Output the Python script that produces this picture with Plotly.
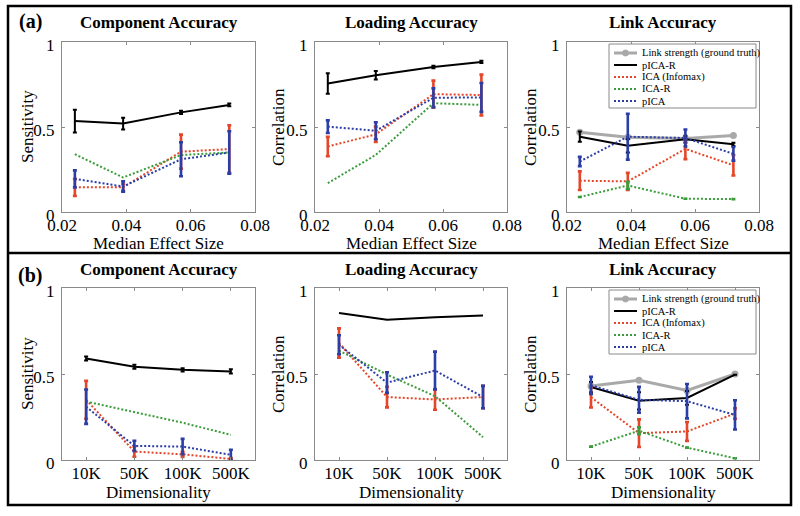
import plotly.graph_objects as go

# ---------------- data ----------------
effect_size = [0.024, 0.039, 0.057, 0.072]
dims = ["10K", "50K", "100K", "500K"]
effect_ticks = [0.02, 0.04, 0.06, 0.08]
effect_ticktext = ["0.02", "0.04", "0.06", "0.08"]
y_ticks = [0, 0.5, 1]
y_ticktext = ["0", "0.5", "1"]

series_names = ["Link strength (ground truth)", "pICA-R", "ICA (Infomax)", "ICA-R", "pICA"]

# (a) Component accuracy vs effect size
a_comp_picar = [0.535, 0.52, 0.586, 0.63]
a_comp_picar_err = [0.067, 0.034, 0.01, 0.008]
a_comp_ica = [0.145, 0.145, 0.355, 0.37]
a_comp_ica_err = [0.05, 0.02, 0.1, 0.14]
a_comp_icar = [0.34, 0.203, 0.335, 0.35]
a_comp_pica = [0.195, 0.15, 0.31, 0.35]
a_comp_pica_err = [0.05, 0.03, 0.1, 0.125]

# (a) Loading accuracy
a_load_picar = [0.756, 0.805, 0.853, 0.883]
a_load_picar_err = [0.06, 0.025, 0.008, 0.006]
a_load_ica = [0.385, 0.457, 0.693, 0.688]
a_load_ica_err = [0.057, 0.045, 0.08, 0.12]
a_load_icar = [0.17, 0.336, 0.64, 0.63]
a_load_pica = [0.502, 0.478, 0.672, 0.674]
a_load_pica_err = [0.037, 0.05, 0.055, 0.085]

# (a) Link accuracy
a_link_truth = [0.469, 0.44, 0.432, 0.45]
a_link_picar = [0.443, 0.39, 0.428, 0.398]
a_link_picar_err = [0.03, 0.04, 0.02, 0.01]
a_link_ica = [0.184, 0.18, 0.371, 0.275]
a_link_ica_err = [0.055, 0.05, 0.06, 0.06]
a_link_icar = [0.088, 0.156, 0.078, 0.076]
a_link_icar_err = [None, 0.02, None, None]
a_link_pica = [0.297, 0.443, 0.435, 0.342]
a_link_pica_err = [0.027, 0.135, 0.05, 0.04]

# (b) Component accuracy vs dimensionality
b_comp_picar = [0.59, 0.542, 0.524, 0.515]
b_comp_picar_err = [0.012, 0.012, 0.01, 0.012]
b_comp_ica = [0.35, 0.049, 0.033, 0.006]
b_comp_ica_err = [0.11, 0.03, 0.015, 0.006]
b_comp_icar = [0.34, 0.278, 0.217, 0.146]
b_comp_pica = [0.31, 0.082, 0.078, 0.03]
b_comp_pica_err = [0.1, 0.03, 0.045, 0.03]

# (b) Loading accuracy
b_load_picar = [0.855, 0.816, 0.83, 0.84]
b_load_ica = [0.68, 0.366, 0.352, 0.366]
b_load_ica_err = [0.085, 0.06, 0.06, 0.065]
b_load_icar = [0.636, 0.497, 0.371, 0.133]
b_load_pica = [0.67, 0.45, 0.52, 0.366]
b_load_pica_err = [0.055, 0.06, 0.11, 0.065]

# (b) Link accuracy
b_link_truth = [0.43, 0.463, 0.404, 0.5]
b_link_picar = [0.424, 0.344, 0.361, 0.496]
b_link_picar_err = [0.03, 0.05, 0.04, None]
b_link_ica = [0.365, 0.156, 0.166, 0.27]
b_link_ica_err = [0.06, 0.08, 0.055, 0.03]
b_link_icar = [0.078, 0.17, 0.072, 0.01]
b_link_icar_err = [None, 0.02, None, None]
b_link_pica = [0.434, 0.35, 0.342, 0.262]
b_link_pica_err = [0.05, 0.075, 0.1, 0.085]

# ---------------- styling ----------------
W, H = 800, 516
C_GRAY = "#a9a9a9"
C_BLACK = "#000000"
C_RED = "#e4462a"
C_GREEN = "#3a9c3a"
C_BLUE = "#2b3ea6"
DOT = "2px,2px"
SERIF = "Liberation Serif, Times New Roman, serif"


def px(x):
    return x / W


def py(y):
    return 1 - y / H


col_x = [(62, 255), (315, 507), (567, 759)]
row_y = [(42, 212), (288, 460)]

fig = go.Figure()


def err(arr, color, thick=2.6, width=2):
    if arr is None:
        return None
    return dict(type="data", array=arr, visible=True, color=color,
                thickness=thick, width=width)


def add_series(i, xs, truth, picar, picar_err, ica, ica_err, icar, icar_err, pica, pica_err):
    xa, ya = f"x{i}", f"y{i}"
    if truth is not None:
        fig.add_trace(go.Scatter(x=xs, y=truth, xaxis=xa, yaxis=ya, mode="lines+markers",
                                 line=dict(color=C_GRAY, width=3),
                                 marker=dict(color=C_GRAY, size=7, symbol="circle"),
                                 name=series_names[0], showlegend=False))
    fig.add_trace(go.Scatter(x=xs, y=picar, xaxis=xa, yaxis=ya, mode="lines",
                             line=dict(color=C_BLACK, width=2),
                             error_y=err(picar_err, C_BLACK, 2, 2),
                             name=series_names[1], showlegend=False))
    fig.add_trace(go.Scatter(x=xs, y=ica, xaxis=xa, yaxis=ya, mode="lines",
                             line=dict(color=C_RED, width=2, dash=DOT),
                             error_y=err(ica_err, C_RED),
                             name=series_names[2], showlegend=False))
    fig.add_trace(go.Scatter(x=xs, y=icar, xaxis=xa, yaxis=ya, mode="lines",
                             line=dict(color=C_GREEN, width=2, dash=DOT),
                             error_y=err(icar_err, C_GREEN),
                             name=series_names[3], showlegend=False))
    fig.add_trace(go.Scatter(x=xs, y=pica, xaxis=xa, yaxis=ya, mode="lines",
                             line=dict(color=C_BLUE, width=2, dash=DOT),
                             error_y=err(pica_err, C_BLUE),
                             name=series_names[4], showlegend=False))


add_series(1, effect_size, None, a_comp_picar, a_comp_picar_err, a_comp_ica, a_comp_ica_err,
           a_comp_icar, None, a_comp_pica, a_comp_pica_err)
add_series(2, effect_size, None, a_load_picar, a_load_picar_err, a_load_ica, a_load_ica_err,
           a_load_icar, None, a_load_pica, a_load_pica_err)
add_series(3, effect_size, a_link_truth, a_link_picar, a_link_picar_err, a_link_ica, a_link_ica_err,
           a_link_icar, a_link_icar_err, a_link_pica, a_link_pica_err)
add_series(4, dims, None, b_comp_picar, b_comp_picar_err, b_comp_ica, b_comp_ica_err,
           b_comp_icar, None, b_comp_pica, b_comp_pica_err)
add_series(5, dims, None, b_load_picar, None, b_load_ica, b_load_ica_err,
           b_load_icar, None, b_load_pica, b_load_pica_err)
add_series(6, dims, b_link_truth, b_link_picar, b_link_picar_err, b_link_ica, b_link_ica_err,
           b_link_icar, b_link_icar_err, b_link_pica, b_link_pica_err)

layout = dict(width=W, height=H, autosize=False,
              margin=dict(l=0, r=0, t=0, b=0, pad=0, autoexpand=False),
              paper_bgcolor="white", plot_bgcolor="white", showlegend=False,
              font=dict(family=SERIF, size=17, color="black"))

axis_common = dict(showgrid=False, zeroline=False, showline=True, linecolor="#8a8a8a",
                   linewidth=1, mirror="ticks", ticks="inside", ticklen=3,
                   tickcolor="#8a8a8a", automargin=False,
                   tickfont=dict(family=SERIF, size=17, color="black"))

annotations = []
titles = ["Component Accuracy", "Loading Accuracy", "Link Accuracy"]
ytitles = ["Sensitivity", "Correlation", "Correlation"]
xtitles = ["Median Effect Size", "Dimensionality"]
ytitle_x = [27, 278, 530]

for r in range(2):
    for c in range(3):
        i = r * 3 + c + 1
        x0, x1 = col_x[c]
        y0, y1 = row_y[r]
        xa = dict(axis_common, domain=[px(x0), px(x1)], anchor=f"y{i}", ticklabelstandoff=-2)
        if r == 0:
            xa.update(range=[0.02, 0.08], tickvals=effect_ticks, ticktext=effect_ticktext)
        else:
            xa.update(type="category", range=[-0.5, 3.5], categoryorder="array",
                      categoryarray=dims)
        ya = dict(axis_common, domain=[py(y1), py(y0)], anchor=f"x{i}", range=[0, 1],
                  tickvals=y_ticks, ticktext=y_ticktext, ticklabelstandoff=3,
                  ticklabelshift=3)
        layout[f"xaxis{i}"] = xa
        layout[f"yaxis{i}"] = ya
        # subplot title
        annotations.append(dict(text=f"<b>{titles[c]}</b>", x=px((x0 + x1) / 2), y=py(y0 - 19),
                                xref="paper", yref="paper", showarrow=False,
                                font=dict(family=SERIF, size=17), xanchor="center",
                                yanchor="middle"))
        # x title
        annotations.append(dict(text=xtitles[r], x=px((x0 + x1) / 2), y=py(y1 + 32),
                                xref="paper", yref="paper", showarrow=False,
                                font=dict(family=SERIF, size=17), xanchor="center",
                                yanchor="middle"))
        # y title
        annotations.append(dict(text=ytitles[c], x=px(ytitle_x[c]), y=py((y0 + y1) / 2),
                                xref="paper", yref="paper", showarrow=False, textangle=-90,
                                font=dict(family=SERIF, size=17), xanchor="center",
                                yanchor="middle"))

# panel labels
annotations.append(dict(text="<b>(a)</b>", x=px(30), y=py(22), xref="paper", yref="paper",
                        showarrow=False, xanchor="center", yanchor="middle",
                        font=dict(family=SERIF, size=20)))
annotations.append(dict(text="<b>(b)</b>", x=px(30), y=py(275), xref="paper", yref="paper",
                        showarrow=False, xanchor="center", yanchor="middle",
                        font=dict(family=SERIF, size=20)))

shapes = []
# outer frame and divider
shapes.append(dict(type="rect", xref="paper", yref="paper", x0=px(8), x1=px(791),
                   y0=py(505), y1=py(6), line=dict(color="black", width=2.5)))
shapes.append(dict(type="line", xref="paper", yref="paper", x0=px(8), x1=px(791),
                   y0=py(253), y1=py(253), line=dict(color="black", width=2.5)))

# manual legends (inside link-accuracy panels)
legend_styles = [
    dict(color=C_GRAY, width=3, dash="solid", marker=True),
    dict(color=C_BLACK, width=2, dash="solid", marker=False),
    dict(color=C_RED, width=2, dash=DOT, marker=False),
    dict(color=C_GREEN, width=2, dash=DOT, marker=False),
    dict(color=C_BLUE, width=2, dash=DOT, marker=False),
]
for top in (44, 290):
    shapes.append(dict(type="rect", xref="paper", yref="paper", x0=px(609), x1=px(756),
                       y0=py(top + 64), y1=py(top), line=dict(color="#8a8a8a", width=1),
                       fillcolor="white", layer="above"))
    for k, st in enumerate(legend_styles):
        yc = top + 9 + 12 * k
        shapes.append(dict(type="line", xref="paper", yref="paper", x0=px(614), x1=px(637),
                           y0=py(yc), y1=py(yc),
                           line=dict(color=st["color"], width=st["width"], dash=st["dash"]),
                           layer="above"))
        if st["marker"]:
            shapes.append(dict(type="circle", xref="paper", yref="paper",
                               x0=px(622.5), x1=px(628.5), y0=py(yc + 3), y1=py(yc - 3),
                               fillcolor=st["color"], line=dict(color=st["color"], width=1),
                               layer="above"))
        annotations.append(dict(text=series_names[k], x=px(640), y=py(yc), xref="paper",
                                yref="paper", showarrow=False, xanchor="left", yanchor="middle",
                                font=dict(family=SERIF, size=10.5)))

layout["annotations"] = annotations
layout["shapes"] = shapes
fig.update_layout(**layout)

fig.write_html("out.html", config={"displayModeBar": False},
               post_script="document.body.style.margin='0px';")
